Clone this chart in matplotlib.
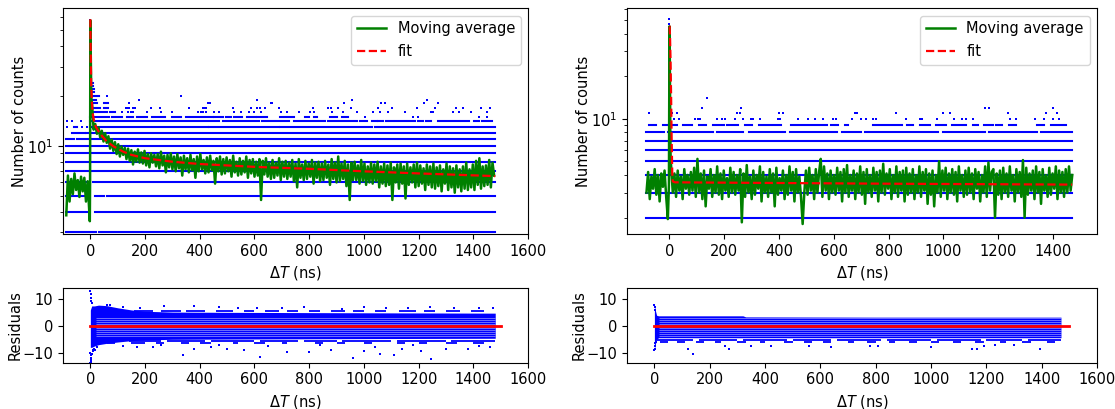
import numpy as np
import matplotlib
matplotlib.use("Agg")
import matplotlib.pyplot as plt
from matplotlib.ticker import NullFormatter

plt.rcParams['font.size'] = 10.5

# ---------------- left measurement: count levels of the raw histogram ----------------
levels_L = [3, 4, 5, 6, 7, 8, 9, 10, 11, 12, 13, 14, 15, 16, 17, 18, 19, 20, 21, 22, 23, 24, 26]
segs_L = [
    [(-90, -8), (0, 3), (10, 20), (30, 40), (48, 1480)],
    [(-90, -5), (16, 30), (40, 55), (60, 1480)],
    [(-90, -5), (16, 30), (38, 50), (60, 1480)],
    [(-90, -5), (8, 1480)],
    [(-90, 1480)],
    [(-90, 1480)],
    [(-90, 1480)],
    [(-90, 1480)],
    [(-88, -60), (-50, -30), (-22, -5), (0, 1480)],
    [(-66, -50), (-40, -20), (-15, -5), (0, 100), (110, 185), (192, 1480)],
    [(-60, -48), (0, 429), (435, 562), (568, 689), (695, 1028), (1040, 1161), (1167, 1478)],
    [(0, 471), (484, 617), (629, 725), (743, 858), (870, 973), (985, 1010), (1028, 1046),
     (1052, 1070), (1082, 1106), (1112, 1155), (1161, 1185), (1197, 1215), (1227, 1245),
     (1269, 1348), (1354, 1384), (1402, 1420), (1433, 1469)],
    [(0, 67), (79, 115), (133, 157), (170, 206), (224, 272), (297, 333), (351, 417),
     (423, 447), (453, 484), (496, 514), (526, 556), (574, 604), (610, 647), (695, 743),
     (786, 798), (816, 828), (876, 901), (919, 943)],
    [(4, 30), (40, 60), (70, 91)],
    [(4, 37), (49, 63)],
    [(6, 25), (49, 63)],
    [(6, 20)],
    [(4, 31)],
    [(4, 14)],
    [(5, 12)],
    [(6, 10)],
    [(7, 9)],
    [(6, 7)],
]
sparse_L = {
    13: [-84, -30, -11],
    14: [-84, -66, -36],
    15: [925, 1004, 1179, 1197, 1421, 1451],
    16: [115, 137, 147, 157, 206, 260, 300, 393, 405, 411, 423, 453, 472, 526, 550, 580, 600,
         625, 696, 720, 762, 804, 816, 882, 925, 976, 1034, 1058, 1088, 1150, 1245, 1251,
         1324, 1348, 1390, 1451],
    17: [130, 137, 143, 157, 163, 222, 254, 359, 410, 417, 424, 521, 587, 610, 619, 639, 691,
         815, 867, 880, 906, 952, 1050, 1102, 1193, 1258, 1336, 1362, 1428, 1460],
    18: [52, 60, 65, 140, 429, 437, 659, 665, 926, 1064, 1076, 1219, 1271],
    19: [176, 608, 955, 1230],
    20: [60, 333],
}
spike_L_t = [0, 0, 0, 1, 1, 1, 2, 2, 3]
spike_L_n = [57, 53, 48, 44, 40, 36, 33, 30, 28]

# moving average (left), 6 ns steps
ma_L_pre = [3.8, 6.6, 4.6, 6.3, 5.1, 6.8, 5.4, 6.2, 4.9, 6.5, 5.3, 6.4, 4.6, 6.1, 4.0]  # from -88
ma_L_spike_t = [-2, -1, 0, 1, 2, 3, 4]
ma_L_spike = [3.5, 6.0, 57, 40, 27, 22, 19]
ma_L_post = [  # from 6 ns
    18, 12.5, 13.5, 11.8, 12.9, 11.2, 12.3, 10.6, 11.9, 10.4,
    11.4, 9.6, 10.9, 9.3, 10.5, 8.9, 10.2, 8.6, 9.9, 8.8,
    9.7, 8.3, 9.6, 8.1, 9.4, 7.7, 9.2, 8.0, 9.5, 7.9,
    9.1, 7.8, 9.3, 7.6, 8.9, 7.4, 9.0, 7.9, 8.8, 7.5,
    8.9, 7.3, 9.2, 7.6, 8.7, 6.9, 8.8, 7.4, 9.0, 7.2,
    8.6, 7.0, 8.9, 7.3, 8.5, 6.6, 8.7, 7.2, 8.4, 6.9,
    8.8, 7.1, 8.3, 6.4, 8.6, 7.0, 8.9, 7.2, 8.2, 6.8,
    8.5, 6.9, 8.7, 7.1, 8.1, 5.9, 8.4, 7.0, 8.6, 6.7,
    8.3, 6.8, 8.5, 7.0, 8.2, 6.5, 8.7, 6.9, 8.0, 6.6,
    8.4, 6.7, 8.1, 6.9, 8.6, 6.4, 8.2, 6.8, 8.3, 6.5,
    8.0, 6.6, 8.3, 4.7, 8.1, 6.7, 8.4, 6.5, 7.9, 6.3,
    8.2, 6.4, 7.9, 6.6, 8.4, 6.2, 8.0, 6.5, 8.1, 6.3,
    7.9, 6.5, 8.2, 6.1, 7.8, 5.6, 8.3, 6.4, 7.7, 6.2,
    8.1, 6.3, 7.8, 6.5, 8.2, 5.9, 7.9, 6.4, 8.0, 6.1,
    7.8, 6.2, 8.1, 6.4, 7.7, 5.8, 8.3, 6.3, 7.9, 6.0,
    8.6, 6.1, 7.8, 6.3, 8.1, 5.7, 7.7, 4.7, 7.9, 6.2,
    8.0, 6.2, 7.6, 5.9, 8.2, 6.1, 7.8, 5.8, 7.5, 6.0,
    7.9, 5.9, 7.7, 6.1, 8.0, 5.6, 7.5, 5.9, 7.8, 5.7,
    7.6, 5.8, 7.9, 4.7, 7.4, 6.0, 7.7, 5.5, 7.8, 5.9,
    7.5, 4.8, 7.8, 5.8, 7.4, 6.0, 7.7, 5.6, 7.9, 5.7,
    7.6, 5.9, 7.3, 5.4, 7.7, 5.8, 7.5, 5.6, 7.8, 5.5,
    7.4, 5.7, 7.6, 5.3, 7.2, 5.9, 7.8, 5.4, 7.5, 5.6,
    7.3, 5.2, 7.6, 5.6, 7.2, 5.3, 7.5, 5.5, 7.9, 5.4,
    7.2, 5.6, 7.7, 5.4, 8.1, 5.8, 8.4, 5.5, 7.5, 5.7,
    7.6, 5.8, 8.2, 5.6, 7.9, 6.6,
]
fit_L_t = [0, 1, 2, 3, 5, 8, 12, 20, 30, 40, 60, 85, 120, 150, 200, 300, 400, 600, 800, 1000, 1200, 1480]
fit_L_n = [58, 40, 30, 24, 19, 16, 14.5, 13, 12.2, 11.6, 10.6, 9.9, 9.2, 8.8, 8.4, 8.0, 7.75,
           7.45, 7.25, 7.0, 6.8, 6.55]

# ---------------- right measurement ----------------
levels_R = [2, 3, 4, 5, 6, 7, 8, 9]
segs_R = [
    [(-84, 1470)],
    [(-84, 1470)],
    [(-84, 1470)],
    [(-84, 1470)],
    [(-84, 1470)],
    [(-84, 700), (708, 1470)],
    [(-84, -20), (-5, 160), (175, 270), (290, 420), (440, 610), (630, 700), (715, 980),
     (1000, 1150), (1165, 1340), (1355, 1470)],
    [(-73, -49), (-23, 29), (48, 81), (107, 133), (159, 198), (211, 250), (276, 302), (328, 406),
     (445, 575), (588, 614), (640, 653), (744, 848), (867, 887), (913, 952), (971, 1010),
     (1030, 1082), (1108, 1127), (1147, 1179), (1192, 1212), (1238, 1264), (1342, 1368),
     (1394, 1446)],
]
sparse_R = {
    10: [18, 36, 94, 105, 112, 172, 192, 202, 238, 268, 296, 304, 329, 395, 403, 468, 507, 530,
         562, 595, 607, 666, 699, 718, 741, 753, 863, 916, 921, 977, 1040, 1068, 1081, 1107,
         1244, 1264, 1335, 1368, 1400, 1420],
    11: [-73, 9, 27, 29, 248, 256, 399, 413, 676, 685, 828, 997, 1023, 1234, 1374, 1413],
    12: [117, 262, 1153, 1166, 1400],
    14: [138],
}
spike_R_t = [0, 0, 1, 1, 2, 3, 4]
spike_R_n = [51, 47, 44, 31, 20, 14, 11]

ma_R_pre = [3.0, 4.2, 2.7, 3.9, 3.2, 4.4, 2.9, 4.0, 2.6, 4.1, 3.3, 4.3, 2.8, 1.95]  # from -84
ma_R_spike_t = [-2, 0, 1, 2, 3, 4]
ma_R_spike = [3.4, 45, 30, 14, 8, 5.5]
ma_R_post = [  # from 6 ns
    4.6, 3.0, 4.1, 2.8, 4.3, 3.1, 3.9, 2.7, 4.4, 3.2,
    4.0, 2.9, 4.2, 3.1, 4.5, 2.8, 5.2, 3.0, 4.1, 2.7,
    4.3, 2.4, 3.9, 3.2, 4.4, 2.8, 4.0, 3.0, 4.6, 2.9,
    4.1, 2.7, 4.3, 3.1, 3.8, 2.8, 4.5, 3.0, 4.2, 2.9,
    4.0, 3.1, 4.4, 1.85, 4.1, 2.8, 4.7, 3.0, 3.9, 2.7,
    4.3, 2.9, 4.0, 3.2, 4.6, 2.6, 4.2, 3.0, 3.9, 2.8,
    4.4, 3.0, 4.1, 2.4, 4.5, 2.9, 3.8, 3.1, 4.3, 2.7,
    4.0, 2.9, 4.6, 3.1, 4.2, 2.6, 4.4, 3.0, 3.9, 2.8,
    1.8, 3.0, 4.3, 2.9, 4.5, 3.1, 4.0, 2.7, 4.4, 3.0,
    4.2, 5.2, 2.8, 4.6, 3.1, 4.1, 2.7, 4.3, 3.0, 4.0,
    2.9, 4.5, 3.1, 4.2, 2.6, 4.4, 3.0, 4.7, 2.8, 4.0,
    3.1, 4.3, 2.7, 4.1, 3.0, 4.6, 2.9, 4.2, 2.5, 4.4,
    3.0, 4.0, 2.8, 4.5, 3.1, 4.2, 2.6, 4.3, 3.0, 4.8,
    2.9, 4.1, 3.2, 4.4, 2.7, 4.0, 3.0, 4.6, 2.8, 4.2,
    3.1, 4.3, 2.6, 4.5, 2.9, 4.1, 3.0, 4.4, 2.7, 4.0,
    3.0, 4.6, 2.8, 4.2, 3.1, 4.4, 2.5, 4.1, 2.9, 4.3,
    2.4, 4.0, 3.0, 5.0, 2.8, 4.3, 3.1, 4.5, 2.7, 4.1,
    3.0, 4.4, 2.9, 4.2, 2.6, 4.6, 3.1, 4.0, 2.8, 4.3,
    2.9, 4.5, 3.0, 4.1, 2.7, 4.4, 3.2, 4.2, 2.6, 4.0,
    3.0, 4.6, 2.8, 4.9, 3.1, 4.2, 4.4, 2.0, 4.1, 2.9,
    4.3, 2.7, 4.5, 3.0, 4.1, 2.8, 4.6, 3.1, 4.0, 2.6,
    4.4, 3.0, 4.2, 2.8, 5.1, 2.0, 4.5, 2.9, 4.1, 3.1,
    4.3, 2.7, 4.6, 3.0, 4.2, 2.5, 4.4, 3.1, 4.0, 2.8,
    4.5, 2.9, 4.1, 3.2, 4.6, 2.7, 4.3, 3.0, 4.2, 2.8,
    4.4, 3.0, 4.6, 3.1, 4.0,
]
fit_R_t = [0, 0.5, 2, 4, 6, 8, 10, 12, 20, 100, 400, 800, 1200, 1470]
fit_R_n = [45, 45, 38, 25, 14, 7, 4.2, 3.6, 3.55, 3.54, 3.51, 3.47, 3.44, 3.42]

# ---------------- residuals ----------------
res_L_t = [0, 5, 15, 30, 60, 100, 150, 200, 300, 500, 800, 1100, 1480]
res_L_hi = [6, 7.5, 7.5, 7.8, 7.6, 6.8, 6.0, 5.5, 5.2, 5.1, 5.0, 4.9, 4.8]
res_L_lo = [-8, -8, -7.5, -7, -6.5, -6, -5.5, -5.2, -5.0, -4.9, -4.8, -4.7, -4.6]
res_L_rows = {
    -5.8: [(30, 120), (140, 260), (280, 420), (440, 600), (620, 760), (780, 900), (920, 1100),
           (1120, 1300), (1320, 1480)],
    -6.5: [(60, 90), (150, 200), (240, 270), (330, 360), (400, 440), (520, 540), (600, 640),
           (700, 720), (820, 850), (900, 930), (1000, 1030), (1120, 1150), (1200, 1230),
           (1300, 1340), (1400, 1440)],
    5.7: [(80, 140), (160, 230), (260, 330), (350, 420), (460, 520), (560, 600), (640, 690),
          (720, 760), (800, 840), (880, 930), (960, 1000), (1040, 1080), (1130, 1190),
          (1220, 1260), (1300, 1350), (1390, 1440)],
}
res_L_pts_t = [0, 1, 2, 3, 4, 6, 8, 10, 14, 18, 25, 0, 1, 2, 3, 5, 0, 1,
               340, 620, 720, 800, 960, 1000, 1060, 1110, 1245, 1210, 170, 230, 380, 440, 500,
               560, 880, 1140, 1300, 1380, 1460, 120, 260, 470, 650, 840, 1040, 1180, 1420,
               60, 70, 120, 180, 270, 380, 470, 540, 610, 700, 780, 920, 1000, 1080, 1160,
               1240, 1330, 1420, 1470]
res_L_pts_r = [-14, -13.5, -12.8, -12, -11, -10.5, -9.5, -9, -8.5, -9, -8, 13, 12, 10.5, 9.5,
               8.5, -10, -11,
               -11, -11.5, -9.8, -9.8, -12, -9.5, -10.5, -11, -12.2, -9.5, -8, -8, -8.5, -8,
               -8.5, -9, -9, -8.5, -8.8, -8.5, -8, -7.5, -7.2, -7.3, -7.5, -7.2, -7.8, -7.3,
               -7.5,
               8, 7.8, 7, 6.8, 7.6, 7.6, 7.2, 6.8, 6.6, 6.9, 7, 6.5, 7, 6.8, 6.7, 7, 6.6, 6.8,
               6.6]

res_R_t = [0, 3, 8, 15, 320, 330, 800, 1470]
res_R_hi = [8, 6, 4.0, 3.8, 3.8, 3.4, 3.3, 3.3]
res_R_lo = [-9, -7, -5, -4.4, -4.4, -4.4, -4.4, -4.4]
res_R_rows = {
    -5.2: [(10, 140), (160, 300), (320, 480), (500, 640), (660, 820), (840, 1000), (1020, 1180),
           (1200, 1330), (1350, 1470)],
    -6.0: [(20, 50), (80, 110), (150, 180), (220, 240), (300, 330), (380, 400), (470, 500),
           (540, 570), (610, 640), (700, 720), (770, 800), (850, 870), (920, 950), (1000, 1030),
           (1080, 1110), (1160, 1190), (1250, 1270), (1330, 1360), (1420, 1450)],
}
res_R_pts_t = [120, 140, 255, 270, 350, 420, 560, 640, 780, 810, 1000, 1150, 1165, 1190, 1395,
               1230, 1300, 0, 1, 2, 0, 1, 2, 3, 5]
res_R_pts_r = [-8.5, -10.5, -7.5, -8.5, -7.5, -7.5, -7.5, -8, -7.5, -7.5, -8, -8.5, -8.5, -7.5,
               -8.5, -7, -7, 8, 7, 6, -9, -8.5, -7.5, -6.5, -6]
res_stripes = [-3.6, -2.9, -2.2, -1.5, -0.8, 0.7, 1.4, 2.1, 2.8]


def draw_levels(ax, levels, segs, sparse, spike_t, spike_n):
    ys, x0s, x1s = [], [], []
    for lv, ss in zip(levels, segs):
        for a, b in ss:
            ys.append(lv)
            x0s.append(a)
            x1s.append(b)
    ax.hlines(ys, x0s, x1s, color='b', lw=1.5, capstyle='projecting')
    px, py = [], []
    for lv, xs in sparse.items():
        px += xs
        py += [lv] * len(xs)
    px += spike_t
    py += spike_n
    ax.plot(px, py, 's', color='b', ms=1.6, mew=0, ls='none')


def draw_curve(ax, pre, start, spike_t, spike_n, post, fit_t, fit_n):
    t = np.concatenate([start + 6 * np.arange(len(pre)), spike_t, 6 + 6 * np.arange(len(post))])
    n = np.concatenate([pre, spike_n, post])
    ax.plot(t, n, color='green', lw=1.8, label='Moving average')
    ax.plot(fit_t, fit_n, 'r--', lw=1.6, label='fit')


def draw_res(ax, t, hi, lo, rows, pts_t, pts_r, stripe_x):
    ax.fill_between(t, lo, hi, color='b', lw=0)
    for r, ss in rows.items():
        ax.hlines([r] * len(ss), [a for a, b in ss], [b for a, b in ss], color='b', lw=1.3)
    ax.plot(pts_t, pts_r, 's', color='b', ms=1.6, mew=0, ls='none')
    ax.hlines(res_stripes, stripe_x[0], stripe_x[1], color='white', lw=0.5, alpha=0.6)
    ax.plot([0, 1500], [0, 0], color='r', lw=2)


fig = plt.figure(figsize=(11.15, 4.09), dpi=100)
ax_tl = fig.add_axes([0.0565, 0.4279, 0.4171, 0.5518])
ax_tr = fig.add_axes([0.5621, 0.4279, 0.4217, 0.5518])
ax_bl = fig.add_axes([0.0565, 0.1132, 0.4171, 0.1819])
ax_br = fig.add_axes([0.5621, 0.1132, 0.4217, 0.1819])

draw_levels(ax_tl, levels_L, segs_L, sparse_L, spike_L_t, spike_L_n)
draw_curve(ax_tl, ma_L_pre, -88, ma_L_spike_t, ma_L_spike, ma_L_post, fit_L_t, fit_L_n)
draw_levels(ax_tr, levels_R, segs_R, sparse_R, spike_R_t, spike_R_n)
draw_curve(ax_tr, ma_R_pre, -84, ma_R_spike_t, ma_R_spike, ma_R_post, fit_R_t, fit_R_n)

for ax, ylo, yhi, xl in [(ax_tl, 2.93, 67.5, (-100, 1600)), (ax_tr, 1.53, 60.4, (-156, 1560))]:
    ax.set_yscale('log')
    ax.set_ylim(ylo, yhi)
    ax.set_xlim(*xl)
    ax.yaxis.set_minor_formatter(NullFormatter())
    ax.set_ylabel('Number of counts', labelpad=0)
    ax.set_xlabel(r'$\Delta T$ (ns)')
    ax.legend(loc='upper right')

draw_res(ax_bl, res_L_t, res_L_hi, res_L_lo, res_L_rows, res_L_pts_t, res_L_pts_r, (20, 1480))
draw_res(ax_br, res_R_t, res_R_hi, res_R_lo, res_R_rows, res_R_pts_t, res_R_pts_r, (15, 1470))
for ax in (ax_bl, ax_br):
    ax.set_xlim(-100, 1600)
    ax.set_ylim(-13.75, 14.1)
    ax.set_ylabel('Residuals', labelpad=0)
    ax.set_xlabel(r'$\Delta T$ (ns)')

fig.savefig('out.png', dpi=100)
